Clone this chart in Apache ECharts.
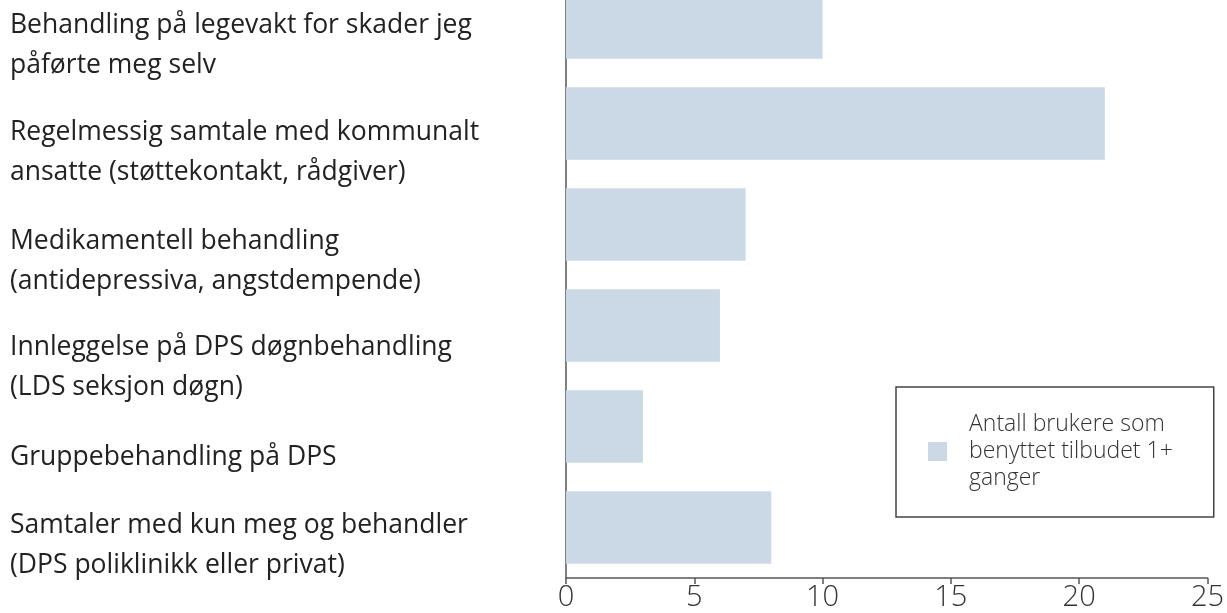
<!DOCTYPE html>
<html>
<head>
<meta charset="utf-8">
<script src="https://cdn.jsdelivr.net/npm/echarts@6/dist/echarts.min.js"></script>
<style>
  html, body { margin: 0; padding: 0; background: #fff; overflow: hidden; height: 613px; }
  #chart { width: 1227px; height: 641px; margin-top: -28px; }
</style>
</head>
<body>
<div id="chart"></div>
<script>
// kategorier (ovenfra og ned)
const categories = [
  'Behandling på legevakt for skader jeg\npåførte meg selv',
  'Regelmessig samtale med kommunalt\nansatte (støttekontakt, rådgiver)',
  'Medikamentell behandling\n(antidepressiva, angstdempende)',
  'Innleggelse på DPS døgnbehandling\n(LDS seksjon døgn)',
  'Gruppebehandling på DPS',
  'Samtaler med kun meg og behandler\n(DPS poliklinikk eller privat)'
]
const brukere = [10, 21, 7, 6, 3, 8]
const seriesName = 'Antall brukere som\nbenyttet tilbudet 1+\nganger'

// teksten står litt under midten av stolpen, ulikt for hver rad
const labelNudge = [23, 29, 37, 42, 31, 18]

const chart = echarts.init(document.getElementById('chart'))
chart.setOption({
  animation: false,
  grid: {
    left: 566,
    right: 19,
    top: 0,
    bottom: 35
  },
  legend: {
    left: 896,
    top: 415,
    orient: 'vertical',
    borderColor: '#444',
    borderWidth: 1.5,
    padding: [24, 41, 25, 32],
    itemWidth: 19,
    itemHeight: 19,
    icon: 'rect',
    textStyle: {
      fontFamily: 'Open Sans',
      fontSize: 23,
      fontWeight: 300,
      color: '#333',
      lineHeight: 27,
      padding: [0, 0, 0, 17]
    },
    data: [seriesName]
  },
  xAxis: {
    type: 'value',
    min: 0,
    max: 25,
    interval: 5,
    splitLine: { show: false },
    axisLine: { show: true, lineStyle: { color: '#555', width: 1.5 } },
    axisTick: { show: true, length: 6, lineStyle: { color: '#555', width: 1.5 } },
    axisLabel: {
      fontFamily: 'Open Sans',
      fontSize: 29,
      fontWeight: 300,
      color: '#333',
      margin: 5
    }
  },
  yAxis: {
    type: 'category',
    inverse: true,
    data: categories,
    axisLine: { show: true, lineStyle: { color: '#555', width: 1.5 } },
    axisTick: { show: false },
    axisLabel: {
      interval: 0,
      showMinLabel: true,
      showMaxLabel: true,
      align: 'left',
      margin: 556,
      formatter: (v, i) =>
        '{s' + i + '| }\n' + v.split('\n').map((l) => '{t|' + l + '}').join('\n'),
      rich: Object.assign(
        {
          t: {
            fontFamily: 'Open Sans',
            fontSize: 26.5,
            color: '#222',
            lineHeight: 40
          }
        },
        ...labelNudge.map((n, i) => ({ ['s' + i]: { fontSize: 2, lineHeight: n * 2 } }))
      )
    }
  },
  series: [
    {
      name: seriesName,
      type: 'bar',
      data: brukere,
      barCategoryGap: '28%',
      itemStyle: { color: '#cbd9e6' }
    }
  ]
})
</script>
</body>
</html>
